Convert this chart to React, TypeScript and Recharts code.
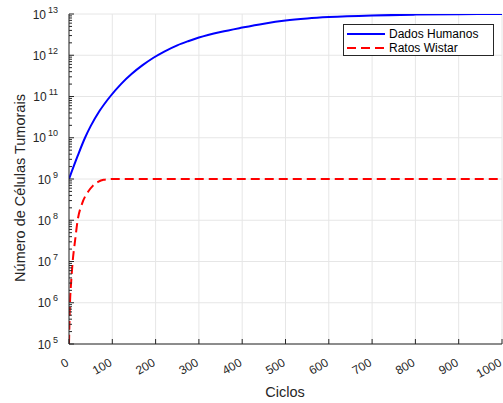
import { LineChart, Line, XAxis, YAxis, CartesianGrid, Legend } from 'recharts';

// values (cycles -> number of cells)
const humanCycles = [
  0, 20, 37, 50, 70, 95, 120, 145, 170, 195, 220, 250, 275, 300,
  350, 400, 450, 500, 550, 600, 700, 800, 900, 1000,
];
const humanCells = [
  1e9, 3.63e9, 1e10, 1.91e10, 4.37e10, 1e11, 2.0e11, 3.55e11, 5.75e11, 8.71e11, 1.23e12, 1.74e12, 2.19e12, 2.69e12,
  3.67e12, 4.68e12, 5.82e12, 6.92e12, 7.76e12, 8.41e12, 9.23e12, 9.66e12, 9.89e12, 1e13,
];

const ratCycles = [0, 2, 5, 8.5, 14, 20, 30, 44, 55, 67, 80, 100, 1000];
const ratCells = [1e5, 8e5, 3.2e6, 1e7, 3.2e7, 1e8, 2.5e8, 4.9e8, 6.8e8, 8.5e8, 9.6e8, 1e9, 1e9];

const cycleTicks = [0, 100, 200, 300, 400, 500, 600, 700, 800, 900, 1000];
const decadeTicks = [1e5, 1e6, 1e7, 1e8, 1e9, 1e10, 1e11, 1e12, 1e13];
const seriesNames = ['Dados Humanos', 'Ratos Wistar'];

const minorTicks = decadeTicks.slice(0, -1).flatMap((d) => [2, 3, 4, 5, 6, 7, 8, 9].map((m) => d * m));
const yTicks = [...decadeTicks, ...minorTicks].sort((a, b) => a - b);

const humanData = humanCycles.map((c, i) => ({ cycle: c, cells: humanCells[i] }));
const ratData = ratCycles.map((c, i) => ({ cycle: c, cells: ratCells[i] }));

const FONT = '"Liberation Sans", Arial, Helvetica, sans-serif';
const AXIS = '#262626';

const isMajor = (v: number) => decadeTicks.includes(v);

function BottomTick({ x, y, payload }: any) {
  const tx = x + 0.5;
  const ty = y + 21;
  return (
    <g>
      <line x1={x} y1={y} x2={x} y2={y - 5} stroke={AXIS} />
      <text x={tx} y={ty} transform={`rotate(-30 ${tx} ${ty})`} textAnchor="end" fontSize={12} fontFamily={FONT} fill={AXIS}>
        {payload.value}
      </text>
    </g>
  );
}

function TopTick({ x, y }: any) {
  return <line x1={x} y1={y} x2={x} y2={y + 5} stroke={AXIS} />;
}

function LeftTick({ x, y, payload }: any) {
  const v = payload.value;
  const major = isMajor(v);
  return (
    <g>
      <line x1={x} y1={y} x2={x + (major ? 5 : 3)} y2={y} stroke={AXIS} />
      {major && (
        <text x={58} y={y + 4.5} textAnchor="end" fontSize={12} fontFamily={FONT} fill={AXIS}>
          10
          <tspan dx={2} dy={-6} fontSize={9}>{Math.round(Math.log10(v))}</tspan>
        </text>
      )}
    </g>
  );
}

function RightTick({ x, y, payload }: any) {
  const major = isMajor(payload.value);
  return <line x1={x} y1={y} x2={x - (major ? 5 : 3)} y2={y} stroke={AXIS} />;
}

function LegendBox({ payload }: any) {
  return (
    <div
      style={{
        boxSizing: 'border-box',
        width: 151,
        height: 32,
        border: `1px solid ${AXIS}`,
        background: '#fff',
        padding: '2px 0 0 2px',
        fontFamily: FONT,
        fontSize: 12,
        color: '#000',
      }}
    >
      {(payload || []).map((e: any) => (
        <div key={e.value} style={{ display: 'flex', alignItems: 'center', height: 14 }}>
          <svg width={40} height={14}>
            <line x1={1} x2={39} y1={7} y2={7} stroke={e.color} strokeWidth={2} strokeDasharray={e.payload?.strokeDasharray} />
          </svg>
          <span style={{ marginLeft: 3, lineHeight: '14px' }}>{e.value}</span>
        </div>
      ))}
    </div>
  );
}

export default function App() {
  return (
    <div style={{ position: 'absolute', left: 0, top: 0, width: 503, height: 403, background: '#fff' }}>
      <LineChart width={503} height={403} margin={{ top: 14, right: 1, bottom: 0, left: 0 }}>
        <CartesianGrid xAxisId="b" yAxisId="l" stroke="#e6e6e6" horizontalValues={decadeTicks} verticalValues={cycleTicks} />
        <XAxis
          xAxisId="b"
          dataKey="cycle"
          type="number"
          domain={[0, 1000]}
          ticks={cycleTicks}
          interval={0}
          allowDataOverflow
          height={59}
          tickSize={0}
          tickMargin={0}
          tick={<BottomTick />}
          axisLine={{ stroke: AXIS }}
          tickLine={false}
          label={{
            value: 'Ciclos',
            content: () => (
              <text x={285} y={397} textAnchor="middle" fontSize={14.5} fontFamily={FONT} fill={AXIS}>
                Ciclos
              </text>
            ),
          }}
        />
        <XAxis
          xAxisId="t"
          orientation="top"
          type="number"
          domain={[0, 1000]}
          ticks={cycleTicks}
          interval={0}
          allowDataOverflow
          height={0}
          tickSize={0}
          tickMargin={0}
          tick={<TopTick />}
          axisLine={{ stroke: AXIS }}
          tickLine={false}
        />
        <YAxis
          yAxisId="l"
          scale="log"
          type="number"
          domain={[1e5, 1e13]}
          ticks={yTicks}
          interval={0}
          allowDataOverflow
          width={69}
          tickSize={0}
          tickMargin={0}
          tick={<LeftTick />}
          axisLine={{ stroke: AXIS }}
          tickLine={false}
          label={{
            value: 'Número de Células Tumorais',
            content: () => (
              <text x={25} y={188} transform="rotate(-90 25 188)" textAnchor="middle" fontSize={14.5} fontFamily={FONT} fill={AXIS}>
                Número de Células Tumorais
              </text>
            ),
          }}
        />
        <YAxis
          yAxisId="r"
          orientation="right"
          scale="log"
          type="number"
          domain={[1e5, 1e13]}
          ticks={yTicks}
          interval={0}
          allowDataOverflow
          width={0}
          tickSize={0}
          tickMargin={0}
          tick={<RightTick />}
          axisLine={{ stroke: AXIS }}
          tickLine={false}
        />
        <Line
          xAxisId="b"
          yAxisId="l"
          data={humanData}
          dataKey="cells"
          name={seriesNames[0]}
          type="monotone"
          stroke="#0000ff"
          strokeWidth={2}
          dot={false}
          isAnimationActive={false}
        />
        <Line
          xAxisId="b"
          yAxisId="l"
          data={ratData}
          dataKey="cells"
          name={seriesNames[1]}
          type="monotone"
          stroke="#ff0000"
          strokeWidth={2}
          strokeDasharray="9 5"
          dot={false}
          isAnimationActive={false}
        />
        <Legend
          layout="vertical"
          align="center"
          verticalAlign="middle"
          wrapperStyle={{ left: 343, top: 24, width: 151, height: 32 }}
          content={<LegendBox />}
        />
      </LineChart>
    </div>
  );
}
